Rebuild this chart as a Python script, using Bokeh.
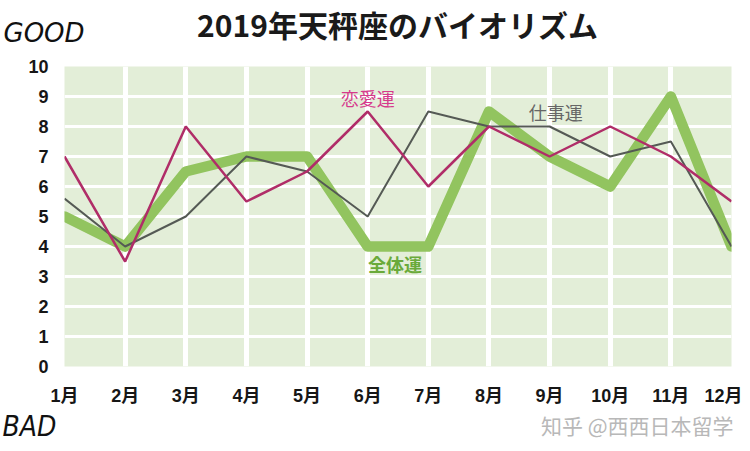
from bokeh.plotting import figure
from bokeh.layouts import column, row
from bokeh.models import Range1d, FixedTicker, Label
from bokeh.embed import file_html
from bokeh.resources import INLINE

# ---- data ----
months = ["1月", "2月", "3月", "4月", "5月", "6月", "7月", "8月", "9月", "10月", "11月", "12月"]
month_idx = list(range(len(months)))
overall = [5, 4, 6.5, 7, 7, 4, 4, 8.5, 7, 6, 9, 4]          # 全体運
love = [7, 3.5, 8, 5.5, 6.5, 8.5, 6, 8, 7, 8, 7, 5.5]        # 恋愛運
work = [5.6, 4, 5, 7, 6.5, 5, 8.5, 8, 8, 7, 7.5, 4]          # 仕事運
y_ticks = list(range(0, 11))
title_text = "2019年天秤座のバイオリズム"

FONT = "'Liberation Sans', 'Noto Sans CJK JP'"
CJK = "Noto Sans CJK JP"
W = 742


def strip(h):
    f = figure(width=W, height=h, output_backend="svg", toolbar_location=None,
               x_range=Range1d(0, W), y_range=Range1d(h, 0),
               x_axis_type=None, y_axis_type=None,
               min_border=0, min_border_left=0, min_border_right=0,
               min_border_top=0, min_border_bottom=0)
    f.outline_line_color = None
    f.xgrid.visible = False
    f.ygrid.visible = False
    f.background_fill_color = "white"
    f.border_fill_color = "white"
    return f


def add_label(fig, x, y, text, size, color, font=CJK, style="normal", align="center", baseline="middle"):
    fig.add_layout(Label(x=x, y=y, text=text, text_font=font, text_font_size=size,
                         text_color=color, text_font_style=style, text_align=align,
                         text_baseline=baseline))


# ---- top strip: title + GOOD ----
top = strip(56)
add_label(top, 397, 23, title_text, "30px", "#1a1a1a", style="bold")
add_label(top, 3, 32, "GOOD", "26px", "#111111", font="DejaVu Sans", style="italic", align="left")

# ---- main chart ----
p = figure(width=W, height=352, output_backend="svg", toolbar_location=None,
           x_range=Range1d(0, 11), y_range=Range1d(0, 10),
           min_border_left=64, min_border_right=11, min_border_top=10, min_border_bottom=35)
p.outline_line_color = None
p.background_fill_color = "#e3eed8"
p.border_fill_color = "white"

p.xgrid.ticker = FixedTicker(ticks=month_idx)
p.ygrid.ticker = FixedTicker(ticks=y_ticks)
p.xgrid.grid_line_color = "white"
p.xgrid.grid_line_width = 5
p.ygrid.grid_line_color = "white"
p.ygrid.grid_line_width = 3

for ax in (p.xaxis[0], p.yaxis[0]):
    ax.axis_line_color = None
    ax.major_tick_line_color = None
    ax.minor_tick_line_color = None
    ax.major_label_text_font = FONT
    ax.major_label_text_font_style = "bold"
    ax.major_label_text_font_size = "18px"
    ax.major_label_text_color = "#161616"

p.xaxis.ticker = FixedTicker(ticks=month_idx)
p.xaxis.major_label_overrides = {i: m for i, m in zip(month_idx, months)}
p.xaxis.major_label_standoff = 13
p.yaxis.ticker = FixedTicker(ticks=y_ticks)
p.yaxis.major_label_standoff = 10

p.line(month_idx, overall, line_color="#92c45f", line_width=10.5, line_join="round", line_cap="round")
p.line(month_idx, work, line_color="#555a55", line_width=2)
p.line(month_idx, love, line_color="#b02d68", line_width=2.5)

add_label(p, 5.0, 8.95, "恋愛運", "18px", "#d63a8c")
add_label(p, 8.1, 8.5, "仕事運", "18px", "#666666")
add_label(p, 5.45, 3.42, "全体運", "18px", "#6aaa3a", style="bold")

# ---- bottom strip: BAD + watermark ----
bottom = strip(35)
add_label(bottom, 2, 17.5, "BAD", "28px", "#111111", font="DejaVu Sans Condensed", style="italic", align="left")
add_label(bottom, 733, 16, "知乎 @西西日本留学", "21px", "#b8b8b8", font="Noto Sans CJK SC", align="right")

layout = column(row(top), p, row(bottom), spacing=0)
open("out.html", "w").write(file_html(layout, INLINE))
